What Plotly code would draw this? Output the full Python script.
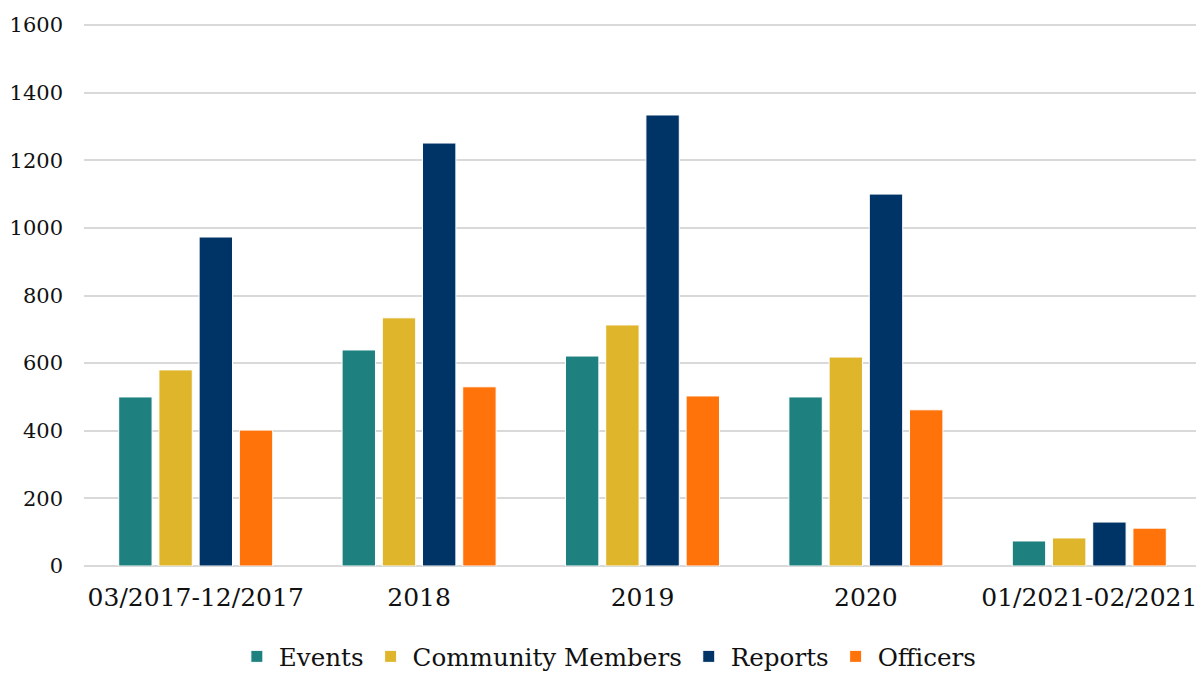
import plotly.graph_objects as go

periodos = ["03/2017-12/2017", "2018", "2019", "2020", "01/2021-02/2021"]
eventos = [500, 639, 621, 500, 74]
membros = [580, 734, 713, 618, 83]
relatorios = [973, 1251, 1334, 1100, 130]
oficiais = [402, 530, 503, 462, 112]

series = [
    ("Events", eventos, "#1f8080"),
    ("Community Members", membros, "#dfb52c"),
    ("Reports", relatorios, "#003366"),
    ("Officers", oficiais, "#ff730a"),
]

fig = go.Figure()
for nome, valores, cor in series:
    fig.add_trace(go.Bar(x=periodos, y=valores, name=nome, marker_color=cor,
                         marker_line=dict(color="white", width=1)))

# a pagina tem margem de 8px no body, por isso a figura e um pouco menor
fonte = "DejaVu Serif"
fig.update_layout(
    width=1196, height=665,
    plot_bgcolor="white", paper_bgcolor="white",
    font=dict(family=fonte, size=21, color="#111111"),
    barmode="group", bargap=0.28, bargroupgap=0.17,
    margin=dict(l=76, r=3, t=14, b=107, autoexpand=False),
    showlegend=True,
    legend=dict(orientation="h", x=0.469, xanchor="center",
                yref="container", y=0.025, yanchor="middle",
                font=dict(family=fonte, size=24.6, color="#111111"),
                itemwidth=34, traceorder="normal"),
    yaxis=dict(range=[0, 1609], dtick=200, showgrid=True, gridcolor="#d9d9d9",
               gridwidth=1.5, zeroline=True, zerolinecolor="#d9d9d9", zerolinewidth=2,
               ticks="", ticklabelstandoff=20, showline=False, automargin=False,
               tickfont=dict(family=fonte, size=21)),
    xaxis=dict(showline=False, ticks="", ticklabelstandoff=14, automargin=False,
               tickfont=dict(family=fonte, size=25)),
)

fig.write_html("out.html")
